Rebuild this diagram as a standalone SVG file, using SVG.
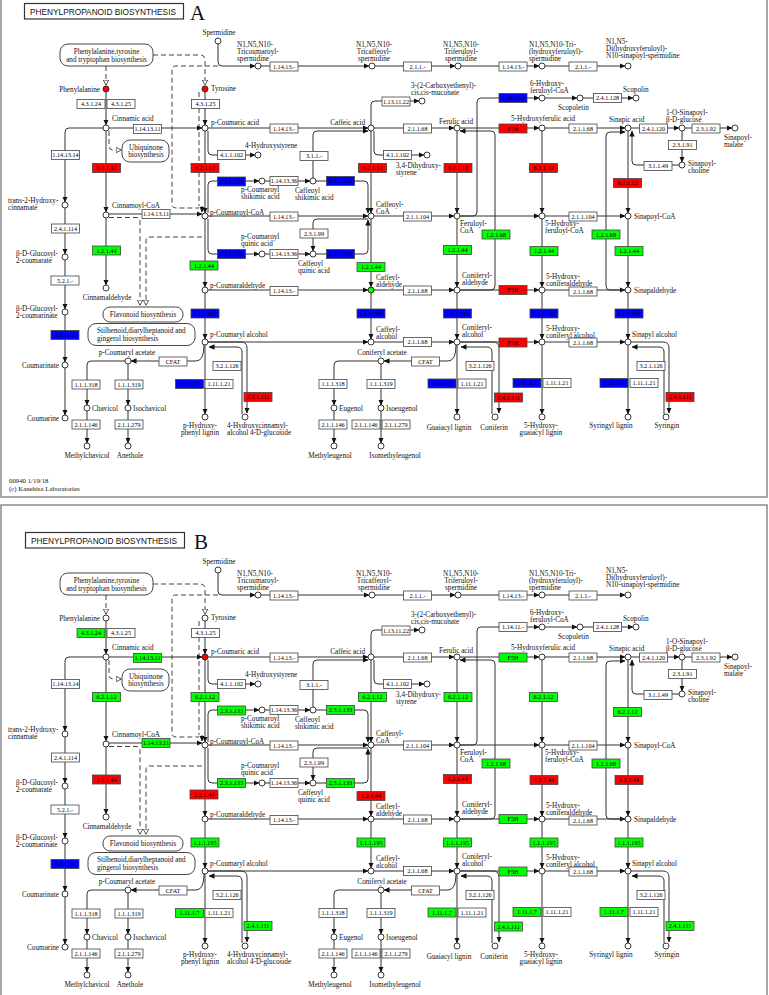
<svg xmlns="http://www.w3.org/2000/svg" width="769" height="995" viewBox="0 0 769 995">
<style>
.t{font-family:"Liberation Serif",serif;font-size:7.2px;fill:#111}
.m{text-anchor:middle}
.r{text-anchor:end}
.n{fill:#fff;stroke:#222;stroke-width:0.9}
.e rect{fill:#fff;stroke:#444;stroke-width:0.8}
.e text{font-family:"Liberation Serif",serif;font-size:6.2px;text-anchor:middle;fill:#000}
.l{fill:none;stroke:#333;stroke-width:1}
.a{marker-end:url(#ah)}
.d{fill:none;stroke:#444;stroke-width:1;stroke-dasharray:5,3}
.o{marker-end:url(#oh)}
.p{fill:#fff;stroke:#333;stroke-width:0.9}
.ttl{font-family:"Liberation Sans",sans-serif;font-size:8.3px;fill:#111}
.big{font-family:"Liberation Serif",serif;font-size:21px;fill:#111}
.frame{fill:none;stroke:#8a8a8a;stroke-width:1.5}
</style>
<defs>
<marker id="ah" markerUnits="userSpaceOnUse" markerWidth="6" markerHeight="6" refX="5.5" refY="3" orient="auto"><path d="M0,0.3 L6,3 L0,5.7z" fill="#111"/></marker>
<marker id="oh" markerUnits="userSpaceOnUse" markerWidth="7" markerHeight="7" refX="5.5" refY="3.5" orient="auto"><path d="M0.6,0.8 L5.8,3.5 L0.6,6.2z" fill="#fff" stroke="#333" stroke-width="0.8"/></marker>
<g id="map">
<g id="connectors">
<path class="l a" d="M218,44 V62 Q218,66 222,66 H255"/>
<path class="d" d="M218,66 H176 Q172,66 172,70 V204 Q172,208 176,208 H199"/>
<path class="d" d="M199,92 V206"/>
<path class="l a" d="M202,206 V212"/>
<path class="l a" d="M261,66 H369"/>
<path class="l a" d="M375,66 H455"/>
<path class="l a" d="M461,66 H539"/>
<path class="l a" d="M545,66 H625"/>
<path class="d o" d="M106,66 V85"/>
<path class="d o" d="M153,55 H200 Q205,55 205,60 V85"/>
<path class="l a" d="M106,92 V125"/>
<path class="l a" d="M106,131 V212"/>
<path class="l a" d="M106,218 V285"/>
<path class="l a" d="M205,92 V125"/>
<path class="l a" d="M205,131 V213"/>
<path class="l a" d="M205,219 V287"/>
<path class="l a" d="M205,293 V339"/>
<path class="l a" d="M205,345 V414"/>
<path class="l a" d="M103,128 H69 Q65,128 65,132 V202"/>
<path class="l a" d="M65,208 V254"/>
<path class="l a" d="M65,260 V309"/>
<path class="l a" d="M65,315 V362"/>
<path class="l a" d="M65,368 V415"/>
<path class="l a" d="M109,128 H202"/>
<path class="l a" d="M208,128 H368"/>
<path class="l a" d="M374,128 H454"/>
<path class="l a" d="M460,128 H539"/>
<path class="l a" d="M545,128 H625"/>
<path class="l a" d="M631,128 H679"/>
<path class="l a" d="M685,128 H732"/>
<path class="l a" d="M109,214 H202"/>
<path class="l a" d="M208,216 H368"/>
<path class="l a" d="M374,216 H454"/>
<path class="l a" d="M460,216 H539"/>
<path class="l a" d="M545,216 H625"/>
<path class="l a" d="M460,216 H473 Q477,216 477,212 V102 Q477,98 481,98 H539"/>
<path class="l a" d="M545,98 H577"/>
<path class="l a" d="M583,98 H633"/>
<path class="l a" d="M208,290 H368"/>
<path class="l a" d="M374,290 H454"/>
<path class="l a" d="M460,290 H539"/>
<path class="l a" d="M545,290 H625"/>
<path class="l a" d="M208,342 H368"/>
<path class="l a" d="M374,342 H454"/>
<path class="l a" d="M460,342 H539"/>
<path class="l a" d="M545,342 H625"/>
<path class="l a" d="M371,131 V213"/>
<path class="l a" d="M371,219 V287"/>
<path class="l a" d="M371,293 V339"/>
<path class="l a" d="M457,131 V213"/>
<path class="l a" d="M457,219 V287"/>
<path class="l a" d="M457,293 V339"/>
<path class="l a" d="M457,345 V414"/>
<path class="l a" d="M542,131 V213"/>
<path class="l a" d="M542,219 V287"/>
<path class="l a" d="M542,293 V339"/>
<path class="l a" d="M542,345 V414"/>
<path class="l a" d="M628,131 V213"/>
<path class="l a" d="M628,219 V287"/>
<path class="l a" d="M628,293 V339"/>
<path class="l a" d="M628,345 V414"/>
<path class="l a" d="M371,125 V105 Q371,101 375,101 H419"/>
<path class="l a" d="M374,131 V151 Q374,155 378,155 H424"/>
<path class="l a" d="M208,131 V151 Q208,155 212,155 H255"/>
<path class="l a" d="M208,213 V185 Q208,181 212,181 H259"/>
<path class="l a" d="M208,219 V250 Q208,254 212,254 H259"/>
<path class="l a" d="M265,181 H310"/>
<path class="l a" d="M316,181 H364 Q368,181 368,185 V213"/>
<path class="l a" d="M313,178 V135 Q313,131 317,131 H368"/>
<path class="l a" d="M265,254 H310"/>
<path class="l a" d="M316,254 H364 Q368,254 368,250 V220"/>
<path class="l a" d="M368,219 H317 Q313,219 313,223 V251"/>
<path class="l a" d="M460,290 H491 Q495,290 495,286 V135 Q495,131 491,131 H460"/>
<path class="l a" d="M625,290 H610 Q606,290 606,286 V136 Q606,132 610,132 H625"/>
<path class="l a" d="M682,131 V162"/>
<path class="l a" d="M679,165 H636 Q632,165 632,161 V131"/>
<path class="l a" d="M204,345 Q204,361 196,361 H131"/>
<path class="l a" d="M208,342 H241 Q247,342 247,348 V413"/>
<path class="l a" d="M242,414 V352 Q242,347 237,347 H209"/>
<path class="l a" d="M125,361 H91 Q87,361 87,365 V405"/>
<path class="l a" d="M128,364 V405"/>
<path class="l a" d="M87,411 V443"/>
<path class="l a" d="M128,411 V443"/>
<path class="l a" d="M456,345 Q456,361 448,361 H384"/>
<path class="l a" d="M378,361 H338 Q334,361 334,365 V405"/>
<path class="l a" d="M381,364 V405"/>
<path class="l a" d="M334,411 V443"/>
<path class="l a" d="M381,411 V443"/>
<path class="l a" d="M460,342 H493 Q499,342 499,348 V413"/>
<path class="l a" d="M492,414 V352 Q492,347 487,347 H461"/>
<path class="l a" d="M631,342 H663 Q669,342 669,348 V413"/>
<path class="l a" d="M664,414 V352 Q664,347 659,347 H632"/>
<path class="d o" d="M109,131 V146 Q109,150 113,150 H121"/>
<path class="d o" d="M109,217.5 H136 Q140,217.5 140,221.5 V305"/>
<path class="d o" d="M202,237 H150 Q146,237 146,241 V305"/>
</g>
<g id="pathways">
<g id="pw_phe"><rect class="p" x="60" y="44" width="93" height="22" rx="8"/><text class="t m" x="106.5" y="53.5">Phenylalanine,tyrosine</text><text class="t m" x="106.5" y="61.5">and tryptophan biosynthesis</text></g>
<g id="pw_ubi"><rect class="p" x="122" y="140" width="47" height="22" rx="8"/><text class="t m" x="146" y="149.5">Ubiquinone</text><text class="t m" x="146" y="157">biosynthesis</text></g>
<g id="pw_flav"><rect class="p" x="103" y="307" width="80" height="15" rx="7"/><text class="t m" x="143" y="317">Flavonoid biosynthesis</text></g>
<g id="pw_stil"><rect class="p" x="88" y="323.5" width="107" height="22" rx="8"/><text class="t" x="97" y="333">Stilbenoid,diarylheptanoid and</text><text class="t" x="97" y="340.5">gingerol biosynthesis</text></g>
</g>
<g id="enzymes">
<g class="e" id="e01"><rect x="270" y="62" width="28" height="9"/><text x="284" y="68.7">1.14.13.-</text></g>
<g class="e" id="e02"><rect x="403.5" y="62" width="28" height="9"/><text x="417.5" y="68.7">2.1.1.-</text></g>
<g class="e" id="e03"><rect x="499" y="62" width="28" height="9"/><text x="513" y="68.7">1.14.13.-</text></g>
<g class="e" id="e04"><rect x="569" y="62" width="28" height="9"/><text x="583" y="68.7">2.1.1.-</text></g>
<g class="e" id="e05"><rect x="77" y="99.5" width="28" height="9" style="fill:var(--k43124,#fff)"/><text x="91" y="106.2">4.3.1.24</text></g>
<g class="e" id="e06"><rect x="107" y="99.5" width="28" height="9"/><text x="121" y="106.2">4.3.1.25</text></g>
<g class="e" id="e07"><rect x="191.5" y="99.5" width="28" height="9"/><text x="205.5" y="106.2">4.3.1.25</text></g>
<g class="e" id="e08"><rect x="133.5" y="124.5" width="28" height="9" style="fill:var(--k1141311,#fff)"/><text x="147.5" y="131.2">1.14.13.11</text></g>
<g class="e" id="e09"><rect x="51.5" y="150.5" width="28" height="9"/><text x="65.5" y="157.2">1.14.13.14</text></g>
<g class="e" id="e10"><rect x="92.5" y="163.5" width="28" height="9" style="fill:var(--k6212,#fff)"/><text x="106.5" y="170.2">6.2.1.12</text></g>
<g class="e" id="e11"><rect x="191" y="163.5" width="28" height="9" style="fill:var(--k6212,#fff)"/><text x="205" y="170.2">6.2.1.12</text></g>
<g class="e" id="e12"><rect x="217.5" y="177" width="28" height="9" style="fill:var(--k23133,#fff)"/><text x="231.5" y="183.7">2.3.1.133</text></g>
<g class="e" id="e13"><rect x="217.5" y="150.5" width="28" height="9"/><text x="231.5" y="157.2">4.1.1.102</text></g>
<g class="e" id="e14"><rect x="142" y="209.5" width="28" height="9" style="fill:var(--k1141311,#fff)"/><text x="156" y="216.2">1.14.13.11</text></g>
<g class="e" id="e15"><rect x="51.5" y="224" width="28" height="9"/><text x="65.5" y="230.7">2.4.1.114</text></g>
<g class="e" id="e16"><rect x="92.5" y="246" width="28" height="9" style="fill:var(--k12144,#fff)"/><text x="106.5" y="252.7">1.2.1.44</text></g>
<g class="e" id="e17"><rect x="190" y="261" width="28" height="9" style="fill:var(--k12144,#fff)"/><text x="204" y="267.7">1.2.1.44</text></g>
<g class="e" id="e18"><rect x="217.5" y="249.5" width="28" height="9" style="fill:var(--k23133,#fff)"/><text x="231.5" y="256.2">2.3.1.133</text></g>
<g class="e" id="e19"><rect x="51" y="276" width="28" height="9"/><text x="65" y="282.7">5.2.1.-</text></g>
<g class="e" id="e20"><rect x="51" y="330.5" width="28" height="9" style="fill:#0000ff"/><text x="65" y="337.2">3.2.1.21</text></g>
<g class="e" id="e21"><rect x="191" y="309" width="28" height="9" style="fill:var(--k111195,#fff)"/><text x="205" y="315.7">1.1.1.195</text></g>
<g class="e" id="e22"><rect x="159" y="357" width="28" height="9"/><text x="173" y="363.7">CFAT</text></g>
<g class="e" id="e23"><rect x="72" y="380" width="28" height="9"/><text x="86" y="386.7">1.1.1.318</text></g>
<g class="e" id="e24"><rect x="115" y="380" width="28" height="9"/><text x="129" y="386.7">1.1.1.319</text></g>
<g class="e" id="e25"><rect x="72" y="420" width="28" height="9"/><text x="86" y="426.7">2.1.1.146</text></g>
<g class="e" id="e26"><rect x="115" y="420" width="28" height="9"/><text x="129" y="426.7">2.1.1.279</text></g>
<g class="e" id="e27"><rect x="175.5" y="379.5" width="28" height="9" style="fill:var(--k11117,#fff)"/><text x="189.5" y="386.2">1.11.1.7</text></g>
<g class="e" id="e28"><rect x="205" y="379.5" width="28" height="9"/><text x="219" y="386.2">1.11.1.21</text></g>
<g class="e" id="e29"><rect x="213" y="361.5" width="28" height="9"/><text x="227" y="368.2">3.2.1.126</text></g>
<g class="e" id="e30"><rect x="244" y="392.5" width="28" height="9" style="fill:var(--k241111,#fff)"/><text x="258" y="399.2">2.4.1.111</text></g>
<g class="e" id="e31"><rect x="270" y="124" width="28" height="9"/><text x="284" y="130.7">1.14.13.-</text></g>
<g class="e" id="e32"><rect x="382" y="97" width="28" height="9"/><text x="396" y="103.7">1.13.11.22</text></g>
<g class="e" id="e33"><rect x="403.5" y="124" width="28" height="9"/><text x="417.5" y="130.7">2.1.1.68</text></g>
<g class="e" id="e34"><rect x="300" y="151.5" width="28" height="9"/><text x="314" y="158.2">3.1.1.-</text></g>
<g class="e" id="e35"><rect x="383.5" y="150.5" width="28" height="9"/><text x="397.5" y="157.2">4.1.1.102</text></g>
<g class="e" id="e36"><rect x="358.5" y="163.5" width="28" height="9" style="fill:var(--k6212,#fff)"/><text x="372.5" y="170.2">6.2.1.12</text></g>
<g class="e" id="e37"><rect x="444" y="163.5" width="28" height="9" style="fill:var(--k6212,#fff)"/><text x="458" y="170.2">6.2.1.12</text></g>
<g class="e" id="e38"><rect x="270" y="176.5" width="28" height="9"/><text x="284" y="183.2">1.14.13.36</text></g>
<g class="e" id="e39"><rect x="326.5" y="176.5" width="28" height="9" style="fill:var(--k23133,#fff)"/><text x="340.5" y="183.2">2.3.1.133</text></g>
<g class="e" id="e40"><rect x="270" y="212" width="28" height="9"/><text x="284" y="218.7">1.14.13.-</text></g>
<g class="e" id="e41"><rect x="403.5" y="212" width="28" height="9"/><text x="417.5" y="218.7">2.1.1.104</text></g>
<g class="e" id="e42"><rect x="300" y="229" width="28" height="9"/><text x="314" y="235.7">2.3.1.99</text></g>
<g class="e" id="e43"><rect x="270" y="249.5" width="28" height="9"/><text x="284" y="256.2">1.14.13.36</text></g>
<g class="e" id="e44"><rect x="326.5" y="249.5" width="28" height="9" style="fill:var(--k23133,#fff)"/><text x="340.5" y="256.2">2.3.1.133</text></g>
<g class="e" id="e45"><rect x="357" y="262.5" width="28" height="9" style="fill:var(--k12144,#fff)"/><text x="371" y="269.2">1.2.1.44</text></g>
<g class="e" id="e46"><rect x="443.5" y="245.5" width="28" height="9" style="fill:var(--k12144,#fff)"/><text x="457.5" y="252.2">1.2.1.44</text></g>
<g class="e" id="e47"><rect x="482" y="230" width="28" height="9" style="fill:#00ff00"/><text x="496" y="236.7">1.2.1.68</text></g>
<g class="e" id="e48"><rect x="270" y="286.5" width="28" height="9"/><text x="284" y="293.2">1.14.13.-</text></g>
<g class="e" id="e49"><rect x="403.5" y="286" width="28" height="9"/><text x="417.5" y="292.7">2.1.1.68</text></g>
<g class="e" id="e50"><rect x="357" y="309" width="28" height="9" style="fill:var(--k111195,#fff)"/><text x="371" y="315.7">1.1.1.195</text></g>
<g class="e" id="e51"><rect x="443.5" y="309" width="28" height="9" style="fill:var(--k111195,#fff)"/><text x="457.5" y="315.7">1.1.1.195</text></g>
<g class="e" id="e52"><rect x="403.5" y="337.5" width="28" height="9"/><text x="417.5" y="344.2">2.1.1.68</text></g>
<g class="e" id="e53"><rect x="411.5" y="357" width="28" height="9"/><text x="425.5" y="363.7">CFAT</text></g>
<g class="e" id="e54"><rect x="319" y="379.5" width="28" height="9"/><text x="333" y="386.2">1.1.1.318</text></g>
<g class="e" id="e55"><rect x="367" y="379.5" width="28" height="9"/><text x="381" y="386.2">1.1.1.319</text></g>
<g class="e" id="e56"><rect x="319" y="420" width="28" height="9"/><text x="333" y="426.7">2.1.1.146</text></g>
<g class="e" id="e57"><rect x="352" y="420" width="28" height="9"/><text x="366" y="426.7">2.1.1.146</text></g>
<g class="e" id="e58"><rect x="382" y="420" width="28" height="9"/><text x="396" y="426.7">2.1.1.279</text></g>
<g class="e" id="e59"><rect x="428" y="379" width="28" height="9" style="fill:var(--k11117,#fff)"/><text x="442" y="385.7">1.11.1.7</text></g>
<g class="e" id="e60"><rect x="458" y="379" width="28" height="9"/><text x="472" y="385.7">1.11.1.21</text></g>
<g class="e" id="e61"><rect x="466" y="361.5" width="28" height="9"/><text x="480" y="368.2">3.2.1.126</text></g>
<g class="e" id="e62"><rect x="494.5" y="393" width="28" height="9" style="fill:var(--k241111,#fff)"/><text x="508.5" y="399.7">2.4.1.111</text></g>
<g class="e" id="e63"><rect x="499" y="93.5" width="28" height="9" style="fill:var(--k11411,#fff)"/><text x="513" y="100.2">1.14.11.-</text></g>
<g class="e" id="e64"><rect x="593.5" y="93.5" width="28" height="9"/><text x="607.5" y="100.2">2.4.1.128</text></g>
<g class="e" id="e65"><rect x="499" y="124" width="28" height="9" style="fill:var(--kF5H,#fff)"/><text x="513" y="130.7">F5H</text></g>
<g class="e" id="e66"><rect x="569" y="124" width="28" height="9"/><text x="583" y="130.7">2.1.1.68</text></g>
<g class="e" id="e67"><rect x="639.5" y="124" width="28" height="9"/><text x="653.5" y="130.7">2.4.1.120</text></g>
<g class="e" id="e68"><rect x="692" y="124" width="28" height="9"/><text x="706" y="130.7">2.3.1.92</text></g>
<g class="e" id="e69"><rect x="668.5" y="140.5" width="28" height="9"/><text x="682.5" y="147.2">2.3.1.91</text></g>
<g class="e" id="e70"><rect x="644" y="161.5" width="28" height="9"/><text x="658" y="168.2">3.1.1.49</text></g>
<g class="e" id="e71"><rect x="529.5" y="163.5" width="28" height="9" style="fill:var(--k6212,#fff)"/><text x="543.5" y="170.2">6.2.1.12</text></g>
<g class="e" id="e72"><rect x="613.5" y="178.5" width="28" height="9" style="fill:var(--k6212,#fff)"/><text x="627.5" y="185.2">6.2.1.12</text></g>
<g class="e" id="e73"><rect x="569" y="212" width="28" height="9"/><text x="583" y="218.7">2.1.1.104</text></g>
<g class="e" id="e74"><rect x="592" y="230" width="28" height="9" style="fill:#00ff00"/><text x="606" y="236.7">1.2.1.68</text></g>
<g class="e" id="e75"><rect x="530" y="246.5" width="28" height="9" style="fill:var(--k12144,#fff)"/><text x="544" y="253.2">1.2.1.44</text></g>
<g class="e" id="e76"><rect x="615" y="246.5" width="28" height="9" style="fill:var(--k12144,#fff)"/><text x="629" y="253.2">1.2.1.44</text></g>
<g class="e" id="e77"><rect x="499" y="285.5" width="28" height="9" style="fill:var(--kF5H,#fff)"/><text x="513" y="292.2">F5H</text></g>
<g class="e" id="e78"><rect x="569" y="287" width="28" height="9"/><text x="583" y="293.7">2.1.1.68</text></g>
<g class="e" id="e79"><rect x="530" y="309" width="28" height="9" style="fill:var(--k111195,#fff)"/><text x="544" y="315.7">1.1.1.195</text></g>
<g class="e" id="e80"><rect x="615" y="309" width="28" height="9" style="fill:var(--k111195,#fff)"/><text x="629" y="315.7">1.1.1.195</text></g>
<g class="e" id="e81"><rect x="499" y="338" width="28" height="9" style="fill:var(--kF5H,#fff)"/><text x="513" y="344.7">F5H</text></g>
<g class="e" id="e82"><rect x="569" y="338" width="28" height="9"/><text x="583" y="344.7">2.1.1.68</text></g>
<g class="e" id="e83"><rect x="513" y="378.5" width="28" height="9" style="fill:var(--k11117,#fff)"/><text x="527" y="385.2">1.11.1.7</text></g>
<g class="e" id="e84"><rect x="543" y="378.5" width="28" height="9"/><text x="557" y="385.2">1.11.1.21</text></g>
<g class="e" id="e85"><rect x="600" y="378.5" width="28" height="9" style="fill:var(--k11117,#fff)"/><text x="614" y="385.2">1.11.1.7</text></g>
<g class="e" id="e86"><rect x="630" y="378.5" width="28" height="9"/><text x="644" y="385.2">1.11.1.21</text></g>
<g class="e" id="e87"><rect x="637" y="361.5" width="28" height="9"/><text x="651" y="368.2">3.2.1.126</text></g>
<g class="e" id="e88"><rect x="666" y="392.5" width="28" height="9" style="fill:var(--k241111,#fff)"/><text x="680" y="399.2">2.4.1.111</text></g>
</g>
<g id="compounds">
<g id="c_spd"><circle class="n" cx="218" cy="41" r="3"/><text class="t m" x="219" y="35">Spermidine</text></g>
<g id="c_tcs"><circle class="n" cx="258" cy="66" r="3"/><text class="t" x="237" y="47">N1,N5,N10-</text><text class="t" x="237" y="54">Tricoumaroyl-</text><text class="t" x="237" y="61">spermidine</text></g>
<g id="c_tcaf"><circle class="n" cx="372" cy="66" r="3"/><text class="t m" x="374" y="47">N1,N5,N10-</text><text class="t m" x="374" y="54">Tricaffeoyl-</text><text class="t m" x="374" y="61">spermidine</text></g>
<g id="c_tfer"><circle class="n" cx="458" cy="66" r="3"/><text class="t m" x="461" y="47">N1,N5,N10-</text><text class="t m" x="461" y="54">Triferuloyl-</text><text class="t m" x="461" y="61">spermidine</text></g>
<g id="c_thf"><circle class="n" cx="542" cy="66" r="3"/><text class="t" x="529" y="47">N1,N5,N10-Tri-</text><text class="t" x="529" y="54">(hydroxyferuloyl)-</text><text class="t" x="529" y="61">spermidine</text></g>
<g id="c_dhs"><circle class="n" cx="628" cy="66" r="3"/><text class="t" x="606" y="44">N1,N5-</text><text class="t" x="606" y="51">Di(hydroxyferuloyl)-</text><text class="t" x="606" y="58">N10-sinapoyl-spermidine</text></g>
<g id="c_phe"><circle class="n" cx="106" cy="89" r="3" style="fill:var(--nPhe,#fff)"/><text class="t r" x="100" y="91.5">Phenylalanine</text></g>
<g id="c_tyr"><circle class="n" cx="205" cy="89" r="3" style="fill:var(--nTyr,#fff)"/><text class="t" x="211" y="91">Tyrosine</text></g>
<g id="c_cin"><circle class="n" cx="106" cy="128" r="3"/><text class="t" x="112" y="121">Cinnamic acid</text></g>
<g id="c_pca"><circle class="n" cx="205" cy="128" r="3" style="fill:var(--nCou,#fff)"/><text class="t" x="211" y="125">p-Coumaric acid</text></g>
<g id="c_caf"><circle class="n" cx="371" cy="128" r="3"/><text class="t r" x="365" y="125">Caffeic acid</text></g>
<g id="c_fer"><circle class="n" cx="457" cy="128" r="3"/><text class="t" x="439" y="124">Ferulic acid</text></g>
<g id="c_5hf"><circle class="n" cx="542" cy="128" r="3"/><text class="t" x="511" y="121">5-Hydroxyferulic acid</text></g>
<g id="c_sin"><circle class="n" cx="628" cy="128" r="3"/><text class="t" x="609" y="122">Sinapic acid</text></g>
<g id="c_osg"><circle class="n" cx="682" cy="128" r="3"/><text class="t" x="666" y="115">1-O-Sinapoyl-</text><text class="t" x="666" y="122">β-D-glucose</text></g>
<g id="c_smal"><circle class="n" cx="735" cy="128" r="3"/><text class="t" x="724" y="140">Sinapoyl-</text><text class="t" x="724" y="147">malate</text></g>
<g id="c_cem"><circle class="n" cx="422" cy="101" r="3"/><text class="t" x="411" y="88">3-(2-Carboxyethenyl)-</text><text class="t" x="411" y="95">cis,cis-muconate</text></g>
<g id="c_6hf"><circle class="n" cx="542" cy="98" r="3"/><text class="t" x="530" y="86">6-Hydroxy-</text><text class="t" x="530" y="93">feruloyl-CoA</text></g>
<g id="c_scp"><circle class="n" cx="580" cy="98" r="3"/><text class="t" x="558" y="110">Scopoletin</text></g>
<g id="c_scl"><circle class="n" cx="636" cy="98" r="3"/><text class="t" x="623" y="92">Scopolin</text></g>
<g id="c_4hs"><circle class="n" cx="258" cy="155" r="3"/><text class="t" x="245" y="148">4-Hydroxystyrene</text></g>
<g id="c_34d"><circle class="n" cx="427" cy="155" r="3"/><text class="t" x="396" y="168">3,4-Dihydroxy-</text><text class="t" x="396" y="175">styrene</text></g>
<g id="c_sch"><circle class="n" cx="682" cy="165" r="3"/><text class="t" x="688" y="166">Sinapoyl-</text><text class="t" x="688" y="173">choline</text></g>
<g id="c_pcs"><circle class="n" cx="262" cy="181" r="3"/><text class="t" x="241" y="192">p-Coumaroyl</text><text class="t" x="241" y="199">shikimic acid</text></g>
<g id="c_cfs"><circle class="n" cx="313" cy="181" r="3"/><text class="t" x="295" y="193">Caffeoyl</text><text class="t" x="295" y="200">shikimic acid</text></g>
<g id="c_t2h"><circle class="n" cx="65" cy="205" r="3"/><text class="t" x="8" y="203">trans-2-Hydroxy-</text><text class="t" x="8" y="210">cinnamate</text></g>
<g id="c_cnc"><circle class="n" cx="106" cy="215" r="3"/><text class="t" x="112" y="208">Cinnamoyl-CoA</text></g>
<g id="c_pcc"><circle class="n" cx="205" cy="216" r="3"/><text class="t" x="210" y="215">p-Coumaroyl-CoA</text></g>
<g id="c_cfc"><circle class="n" cx="371" cy="216" r="3"/><text class="t" x="376" y="207">Caffeoyl-</text><text class="t" x="376" y="214">CoA</text></g>
<g id="c_frc"><circle class="n" cx="457" cy="216" r="3"/><text class="t" x="460" y="226">Feruloyl-</text><text class="t" x="460" y="233">CoA</text></g>
<g id="c_5fc"><circle class="n" cx="542" cy="216" r="3"/><text class="t" x="545" y="226">5-Hydroxy-</text><text class="t" x="545" y="233">feruloyl-CoA</text></g>
<g id="c_spc"><circle class="n" cx="628" cy="216" r="3"/><text class="t" x="634" y="219">Sinapoyl-CoA</text></g>
<g id="c_pcq"><circle class="n" cx="262" cy="254" r="3"/><text class="t" x="241" y="239">p-Coumaroyl</text><text class="t" x="241" y="246">quinic acid</text></g>
<g id="c_cfq"><circle class="n" cx="313" cy="254" r="3"/><text class="t" x="298" y="266">Caffeoyl</text><text class="t" x="298" y="273">quinic acid</text></g>
<g id="c_bgc"><circle class="n" cx="65" cy="257" r="3"/><text class="t" x="16" y="256">β-D-Glucosyl-</text><text class="t" x="16" y="263">2-coumarate</text></g>
<g id="c_cnal"><circle class="n" cx="106" cy="288" r="3"/><text class="t m" x="107" y="300">Cinnamaldehyde</text></g>
<g id="c_pcal"><circle class="n" cx="205" cy="290" r="3"/><text class="t" x="210" y="288">p-Coumaraldehyde</text></g>
<g id="c_cfal"><circle class="n" cx="371" cy="290" r="3" style="fill:var(--nCaf,#fff)"/><text class="t" x="376" y="280">Caffeyl-</text><text class="t" x="376" y="287">aldehyde</text></g>
<g id="c_coal"><circle class="n" cx="457" cy="290" r="3"/><text class="t" x="462" y="278">Coniferyl-</text><text class="t" x="462" y="285">aldehyde</text></g>
<g id="c_5cal"><circle class="n" cx="542" cy="290" r="3"/><text class="t" x="546" y="279">5-Hydroxy-</text><text class="t" x="546" y="286">coniferaldehyde</text></g>
<g id="c_spal"><circle class="n" cx="628" cy="290" r="3"/><text class="t" x="634" y="293">Sinapaldehyde</text></g>
<g id="c_bgn"><circle class="n" cx="65" cy="312" r="3"/><text class="t" x="16" y="311">β-D-Glucosyl-</text><text class="t" x="16" y="318">2-coumarinate</text></g>
<g id="c_pcoh"><circle class="n" cx="205" cy="342" r="3"/><text class="t" x="210" y="337">p-Coumaryl alcohol</text></g>
<g id="c_cfoh"><circle class="n" cx="371" cy="342" r="3"/><text class="t" x="376" y="332">Caffeyl-</text><text class="t" x="376" y="339">alcohol</text></g>
<g id="c_cooh"><circle class="n" cx="457" cy="342" r="3"/><text class="t" x="462" y="330">Coniferyl-</text><text class="t" x="462" y="337">alcohol</text></g>
<g id="c_5coh"><circle class="n" cx="542" cy="342" r="3"/><text class="t" x="546" y="331">5-Hydroxy-</text><text class="t" x="546" y="338">coniferyl alcohol</text></g>
<g id="c_spoh"><circle class="n" cx="628" cy="342" r="3"/><text class="t" x="632" y="337">Sinapyl alcohol</text></g>
<g id="c_pcac"><circle class="n" cx="128" cy="361" r="3"/><text class="t m" x="127" y="355">p-Coumaryl acetate</text></g>
<g id="c_coac"><circle class="n" cx="381" cy="361" r="3"/><text class="t m" x="382" y="355">Coniferyl acetate</text></g>
<g id="c_cmt"><circle class="n" cx="65" cy="365" r="3"/><text class="t r" x="59" y="368">Coumarinate</text></g>
<g id="c_chv"><circle class="n" cx="87" cy="408" r="3"/><text class="t" x="92" y="411">Chavicol</text></g>
<g id="c_ichv"><circle class="n" cx="128" cy="408" r="3"/><text class="t" x="133" y="411">Isochavicol</text></g>
<g id="c_eug"><circle class="n" cx="334" cy="408" r="3"/><text class="t" x="339" y="411">Eugenol</text></g>
<g id="c_ieug"><circle class="n" cx="381" cy="408" r="3"/><text class="t" x="386" y="411">Isoeugenol</text></g>
<g id="c_phl"><circle class="n" cx="205" cy="417" r="3"/><text class="t m" x="200" y="428">p-Hydroxy-</text><text class="t m" x="200" y="435">phenyl lignin</text></g>
<g id="c_hcg"><circle class="n" cx="245" cy="417" r="3"/><text class="t" x="227" y="428">4-Hydroxycinnamyl-</text><text class="t" x="227" y="435">alcohol 4-D-glucoside</text></g>
<g id="c_gl"><circle class="n" cx="457" cy="417" r="3"/><text class="t m" x="449" y="430">Guaiacyl lignin</text></g>
<g id="c_cfr"><circle class="n" cx="495" cy="417" r="3"/><text class="t m" x="494" y="430">Coniferin</text></g>
<g id="c_5gl"><circle class="n" cx="542" cy="417" r="3"/><text class="t m" x="541" y="428">5-Hydroxy-</text><text class="t m" x="541" y="435">guaiacyl lignin</text></g>
<g id="c_syl"><circle class="n" cx="628" cy="417" r="3"/><text class="t m" x="611" y="428">Syringyl lignin</text></g>
<g id="c_syn"><circle class="n" cx="666" cy="417" r="3"/><text class="t m" x="667" y="428">Syringin</text></g>
<g id="c_cmr"><circle class="n" cx="65" cy="418" r="3"/><text class="t r" x="59" y="421">Coumarine</text></g>
<g id="c_mch"><circle class="n" cx="87" cy="446" r="3"/><text class="t m" x="87" y="458">Methylchavicol</text></g>
<g id="c_ane"><circle class="n" cx="128" cy="446" r="3"/><text class="t m" x="130" y="458">Anethole</text></g>
<g id="c_meu"><circle class="n" cx="334" cy="446" r="3"/><text class="t m" x="330" y="458">Methyleugenol</text></g>
<g id="c_imeu"><circle class="n" cx="381" cy="446" r="3"/><text class="t m" x="395" y="458">Isomethyleugenol</text></g>
</g>
</g>
</defs>
<rect x="0" y="0" width="769" height="995" fill="#fff"/>
<g id="panelA">
<rect class="frame" x="1" y="-10" width="766" height="507"/>
<g id="titleA"><rect x="24.5" y="3.5" width="159" height="15.5" fill="#fff" stroke="#333" stroke-width="1.2"/><text class="ttl" x="30" y="14.8">PHENYLPROPANOID  BIOSYNTHESIS</text></g>
<text class="big" x="190" y="19.5">A</text>
<use href="#map" style="--nPhe:#ff0000;--nTyr:#ff0000;--nCou:#ffffff;--nCaf:#00ff00;--k43124:#ffffff;--k1141311:#ffffff;--k6212:#ff0000;--k23133:#0000ff;--k12144:#00ff00;--kF5H:#ff0000;--k11411:#0000ff;--k111195:#0000ff;--k11117:#0000ff;--k241111:#ff0000"/>
<text class="t" x="9" y="483" style="font-size:6.8px">00940 1/19/18</text>
<text class="t" x="9" y="491" style="font-size:6.8px">(c) Kanehisa Laboratories</text>
</g>
<g id="panelB">
<rect class="frame" x="1" y="505" width="766" height="500"/>
<g transform="translate(0,529)">
<g id="titleB"><rect x="25.5" y="3.5" width="159" height="15.5" fill="#fff" stroke="#333" stroke-width="1.2"/><text class="ttl" x="31" y="14.8">PHENYLPROPANOID  BIOSYNTHESIS</text></g>
<text class="big" x="194" y="19.5">B</text>
<use href="#map" style="--nPhe:#ffffff;--nTyr:#ffffff;--nCou:#ff0000;--nCaf:#ffffff;--k43124:#00ff00;--k1141311:#00ff00;--k6212:#00ff00;--k23133:#00ff00;--k12144:#ff0000;--kF5H:#00ff00;--k11411:#ffffff;--k111195:#00ff00;--k11117:#00ff00;--k241111:#00ff00"/>
</g>
</g>
</svg>
